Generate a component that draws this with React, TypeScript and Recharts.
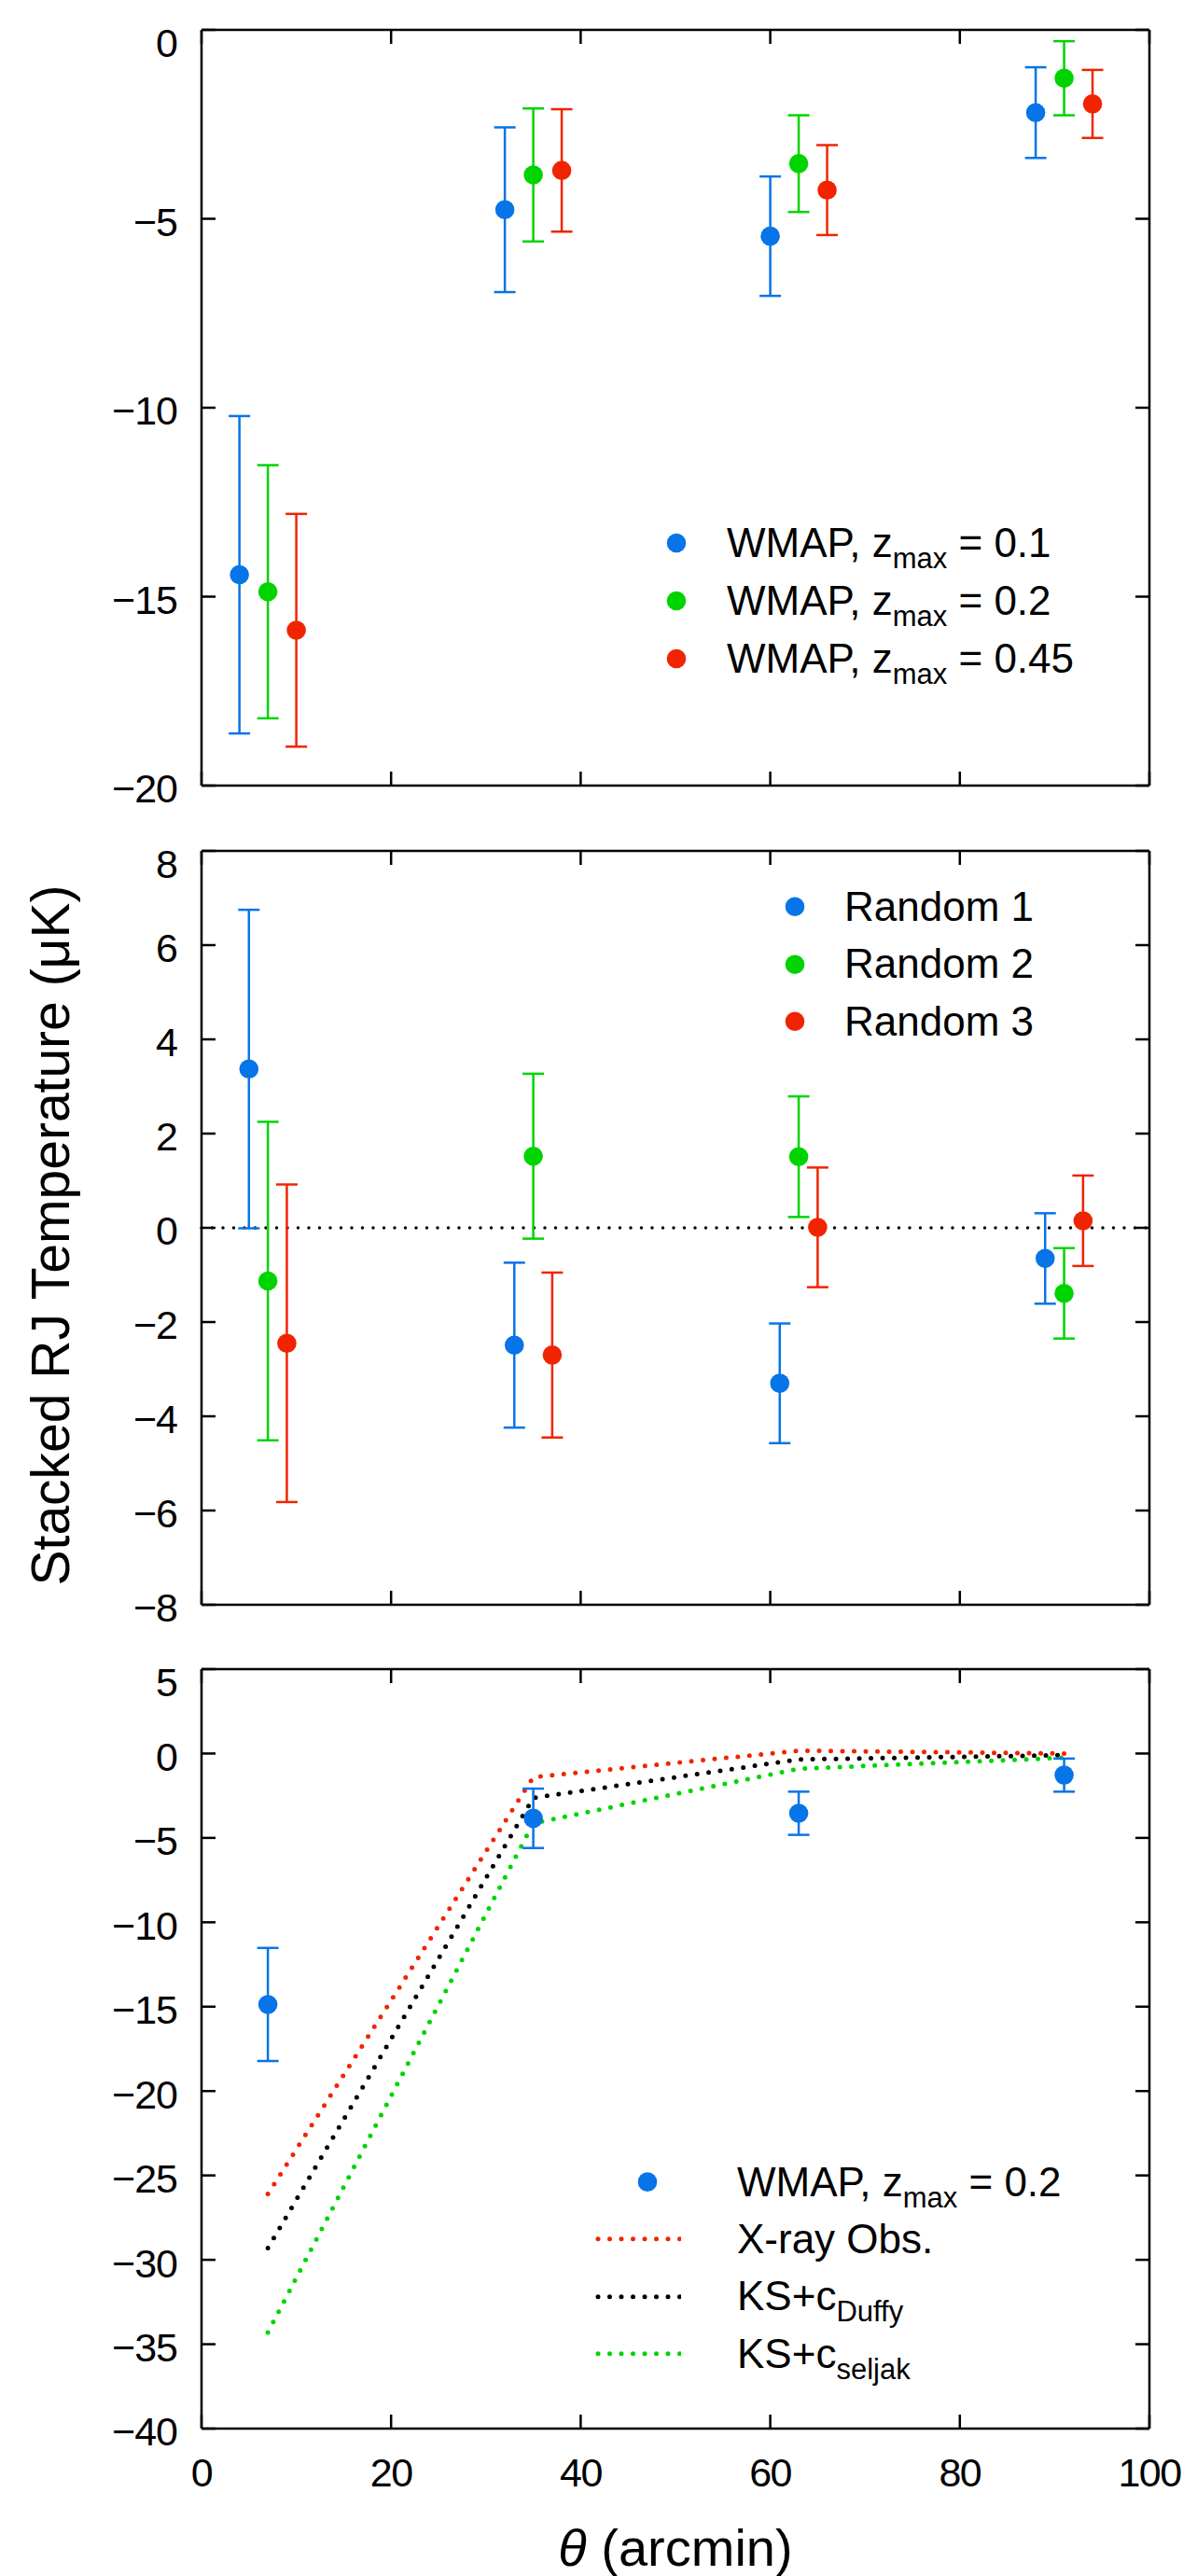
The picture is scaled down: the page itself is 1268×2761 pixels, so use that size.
import React from "react";
import {
  ComposedChart,
  Scatter,
  Line,
  XAxis,
  YAxis,
  ErrorBar,
  ReferenceLine,
  Legend,
  Label,
} from "recharts";

const FONT = '"Liberation Sans", Arial, Helvetica, sans-serif';
const BLUE = "#0774e8";
const GREEN = "#00d400";
const RED = "#f02400";

// top panel: WMAP stacks for three redshift cuts (theta in arcmin, T in μK)
const thetaZ01 = [4, 32, 60, 88];
const tempZ01 = [-14.42, -4.76, -5.46, -2.19];
const errZ01 = [4.2, 2.18, 1.58, 1.2];
const thetaZ02 = [7, 35, 63, 91];
const tempZ02 = [-14.87, -3.84, -3.54, -1.28];
const errZ02 = [3.35, 1.76, 1.28, 0.98];
const thetaZ045 = [10, 38, 66, 94];
const tempZ045 = [-15.89, -3.72, -4.24, -1.96];
const errZ045 = [3.08, 1.62, 1.19, 0.9];

// middle panel: random positions
const thetaR1 = [5, 33, 61, 89];
const tempR1 = [3.37, -2.49, -3.3, -0.65];
const errR1 = [3.38, 1.75, 1.27, 0.96];
const thetaR2 = [7, 35, 63, 91];
const tempR2 = [-1.13, 1.52, 1.51, -1.39];
const errR2 = [3.38, 1.75, 1.28, 0.96];
const thetaR3 = [9, 37, 65, 93];
const tempR3 = [-2.45, -2.7, 0.01, 0.15];
const errR3 = [3.37, 1.75, 1.27, 0.96];

// bottom panel: model predictions
const thetaModel = [7, 35, 63, 91];
const xrayObs = [-26.1, -1.4, 0.17, 0.0];
const ksDuffy = [-29.3, -2.63, -0.35, -0.1];
const ksSeljak = [-34.3, -4.13, -0.9, -0.25];

const xTicks = [0, 20, 40, 60, 80, 100];
const yTicksTop = [0, -5, -10, -15, -20];
const yTicksMid = [8, 6, 4, 2, 0, -2, -4, -6, -8];
const yTicksBot = [5, 0, -5, -10, -15, -20, -25, -30, -35, -40];

const toPoints = (theta: number[], temp: number[], err: number[]) =>
  theta.map((t, i) => ({ theta: t, temp: temp[i], err: err[i] }));

const modelData = thetaModel.map((t, i) => ({
  theta: t,
  xray: xrayObs[i],
  duffy: ksDuffy[i],
  seljak: ksSeljak[i],
}));

const fmt = (v: number) => (v < 0 ? "\u2212" + Math.abs(v) : String(v));

const W = 1268;
const MARGIN_L = 215; // + 1px labelled y axis = 216
const MARGIN_R = 36;
const DOTS = "0 12.5";

function YTick(props: any) {
  const { x, y, payload, top } = props;
  const shift = payload.value === top ? 14 : 3;
  return (
    <text x={x} y={y + shift} dy="0.36em" textAnchor="end" fontSize={43} letterSpacing={-1}
      fontFamily={FONT} fill="#000">
      {fmt(payload.value)}
    </text>
  );
}

function XTick(props: any) {
  const { x, y, payload } = props;
  return (
    <text x={x} y={y} dy="0.71em" textAnchor="middle" fontSize={43} letterSpacing={-1.5}
      fontFamily={FONT} fill="#000">
      {fmt(payload.value)}
    </text>
  );
}

const noTick = () => <g />;

const dotShape = (color: string) => (p: any) => <circle cx={p.cx} cy={p.cy} r={10.3} fill={color} />;

// frame: labelled left axis, mirrored inward ticks on all four sides
function frame(yDomain: number[], yTicks: number[], xLabels: boolean, yLabel?: boolean, xLabel?: boolean) {
  const axisStyle = { stroke: "#000", strokeWidth: 2.5 };
  return [
    <XAxis key="b" xAxisId="b" dataKey="theta" type="number" domain={[0, 100]} ticks={xTicks} interval={0}
      allowDataOverflow height={1} mirror tick={noTick} tickSize={15} axisLine={axisStyle} tickLine={axisStyle} />,
    <XAxis key="t" xAxisId="t" dataKey="theta" orientation="top" type="number" domain={[0, 100]} ticks={xTicks} interval={0}
      allowDataOverflow height={1} mirror tick={noTick} tickSize={15} axisLine={axisStyle} tickLine={axisStyle} />,
    xLabels ? (
      <XAxis key="l" xAxisId="l" dataKey="theta" type="number" domain={[0, 100]} ticks={xTicks} interval={0} allowDataOverflow
        height={1} axisLine={false} tickLine={false} tickSize={0} tickMargin={31} tick={<XTick />}>
        {xLabel ? (
          <Label
            content={(p: any) => {
              const vb = p.viewBox;
              return (
                <text x={vb.x + vb.width / 2} y={vb.y + 147} textAnchor="middle" fontSize={56} fontFamily={FONT} fill="#000">
                  <tspan fontStyle="italic">θ</tspan> (arcmin)
                </text>
              );
            }}
          />
        ) : null}
      </XAxis>
    ) : null,
    <YAxis key="y" yAxisId="y" dataKey="temp" type="number" domain={yDomain} ticks={yTicks} interval={0}
      allowDataOverflow width={1} axisLine={axisStyle} tickLine={false} tickSize={10} tickMargin={16}
      tick={<YTick top={yDomain[1]} />}>
      {yLabel ? (
        <Label
          content={(p: any) => {
            const vb = p.viewBox;
            const cx = 74;
            const cy = vb.y + vb.height / 2 + 8;
            return (
              <text x={cx} y={cy} transform={`rotate(-90, ${cx}, ${cy})`} textAnchor="middle" fontSize={57} fontFamily={FONT} fill="#000">
                Stacked RJ Temperature (μK)
              </text>
            );
          }}
        />
      ) : null}
    </YAxis>,
    <YAxis key="ym" yAxisId="ym" dataKey="temp" type="number" domain={yDomain} ticks={yTicks} interval={0} allowDataOverflow
      width={1} mirror tick={noTick} tickSize={15} axisLine={false} tickLine={axisStyle} />,
    <YAxis key="r" yAxisId="r" dataKey="temp" orientation="right" type="number" domain={yDomain} ticks={yTicks} interval={0}
      allowDataOverflow width={1} mirror tick={noTick} tickSize={15} axisLine={axisStyle} tickLine={axisStyle} />,
  ];
}

function series(name: string, data: any[], color: string) {
  return (
    <Scatter key={name} name={name} xAxisId="b" yAxisId="y" data={data} dataKey="temp" fill={color}
      shape={dotShape(color)} isAnimationActive={false}>
      <ErrorBar dataKey="err" direction="y" width={11.5} strokeWidth={2.5} stroke={color} />
    </Scatter>
  );
}

const sub = (s: string) => (
  <span style={{ fontSize: 31, position: "relative", top: 12 }}>{s}</span>
);

type Row = { label: React.ReactNode; color: string; kind: "dot" | "line" };

function LegendBox({ rows, markerW, dotX, gap, rowH }: { rows: Row[]; markerW: number; dotX: number; gap: number; rowH: number }) {
  return (
    <div style={{ fontFamily: FONT, fontSize: 44, color: "#000" }}>
      {rows.map((r, i) => (
        <div key={i} style={{ display: "flex", alignItems: "center", height: rowH }}>
          <svg width={markerW} height={rowH} style={{ flex: "none" }}>
            {r.kind === "dot" ? (
              <circle cx={dotX} cy={rowH / 2} r={10.3} fill={r.color} />
            ) : (
              <line x1={3} x2={markerW - 1} y1={rowH / 2} y2={rowH / 2} stroke={r.color} strokeWidth={5}
                strokeDasharray={DOTS} strokeLinecap="round" />
            )}
          </svg>
          <span style={{ marginLeft: gap, whiteSpace: "nowrap" }}>{r.label}</span>
        </div>
      ))}
    </div>
  );
}

const topRows: Row[] = [
  { label: <>WMAP, z{sub("max")} = 0.1</>, color: BLUE, kind: "dot" },
  { label: <>WMAP, z{sub("max")} = 0.2</>, color: GREEN, kind: "dot" },
  { label: <>WMAP, z{sub("max")} = 0.45</>, color: RED, kind: "dot" },
];
const midRows: Row[] = [
  { label: "Random 1", color: BLUE, kind: "dot" },
  { label: "Random 2", color: GREEN, kind: "dot" },
  { label: "Random 3", color: RED, kind: "dot" },
];
const botRows: Row[] = [
  { label: <>WMAP, z{sub("max")} = 0.2</>, color: BLUE, kind: "dot" },
  { label: "X-ray Obs.", color: RED, kind: "line" },
  { label: <>KS+c{sub("Duffy")}</>, color: "#000", kind: "line" },
  { label: <>KS+c{sub("seljak")}</>, color: GREEN, kind: "line" },
];

export default function App() {
  return (
    <div style={{ position: "absolute", left: 0, top: 0, width: W, height: 2761, background: "#fff" }}>
      <div style={{ position: "absolute", left: 0, top: 0 }}>
        <ComposedChart width={W} height={876} margin={{ top: 32, right: MARGIN_R, bottom: 34, left: MARGIN_L }}>
          {frame([-20, 0], yTicksTop, false)}
          {series("WMAP, zmax = 0.1", toPoints(thetaZ01, tempZ01, errZ01), BLUE)}
          {series("WMAP, zmax = 0.2", toPoints(thetaZ02, tempZ02, errZ02), GREEN)}
          {series("WMAP, zmax = 0.45", toPoints(thetaZ045, tempZ045, errZ045), RED)}
          <Legend layout="vertical" align="center" verticalAlign="middle"
            wrapperStyle={{ left: 705, top: 551, width: 520 }}
            content={() => <LegendBox rows={topRows} markerW={40} dotX={20} gap={34} rowH={62} />} />
        </ComposedChart>
      </div>
      <div style={{ position: "absolute", left: 0, top: 876 }}>
        <ComposedChart width={W} height={878} margin={{ top: 36, right: MARGIN_R, bottom: 34, left: MARGIN_L }}>
          {frame([-8, 8], yTicksMid, false, true)}
          <ReferenceLine xAxisId="b" yAxisId="y" y={0} stroke="#000" strokeWidth={3.5}
            strokeDasharray="0 11.5" strokeLinecap="round" />
          {series("Random 1", toPoints(thetaR1, tempR1, errR1), BLUE)}
          {series("Random 2", toPoints(thetaR2, tempR2, errR2), GREEN)}
          {series("Random 3", toPoints(thetaR3, tempR3, errR3), RED)}
          <Legend layout="vertical" align="center" verticalAlign="middle"
            wrapperStyle={{ left: 832, top: 65, width: 400 }}
            content={() => <LegendBox rows={midRows} markerW={40} dotX={20} gap={33} rowH={61.5} />} />
        </ComposedChart>
      </div>
      <div style={{ position: "absolute", left: 0, top: 1754 }}>
        <ComposedChart width={W} height={1007} data={modelData}
          margin={{ top: 35, right: MARGIN_R, bottom: 157, left: MARGIN_L }}>
          {frame([-40, 5], yTicksBot, true, false, true)}
          <Line xAxisId="b" yAxisId="y" type="linear" dataKey="xray" name="X-ray Obs." stroke={RED} strokeWidth={5}
            strokeDasharray={DOTS} strokeLinecap="round" dot={false} isAnimationActive={false} />
          <Line xAxisId="b" yAxisId="y" type="linear" dataKey="duffy" name="KS+cDuffy" stroke="#000" strokeWidth={5}
            strokeDasharray={DOTS} strokeLinecap="round" dot={false} isAnimationActive={false} />
          <Line xAxisId="b" yAxisId="y" type="linear" dataKey="seljak" name="KS+cseljak" stroke={GREEN} strokeWidth={5}
            strokeDasharray={DOTS} strokeLinecap="round" dot={false} isAnimationActive={false} />
          {series("WMAP, zmax = 0.2", toPoints(thetaZ02, tempZ02, errZ02), BLUE)}
          <Legend layout="vertical" align="center" verticalAlign="middle"
            wrapperStyle={{ left: 638, top: 554, width: 560 }}
            content={() => <LegendBox rows={botRows} markerW={92} dotX={56} gap={60} rowH={61.3} />} />
        </ComposedChart>
      </div>
    </div>
  );
}
